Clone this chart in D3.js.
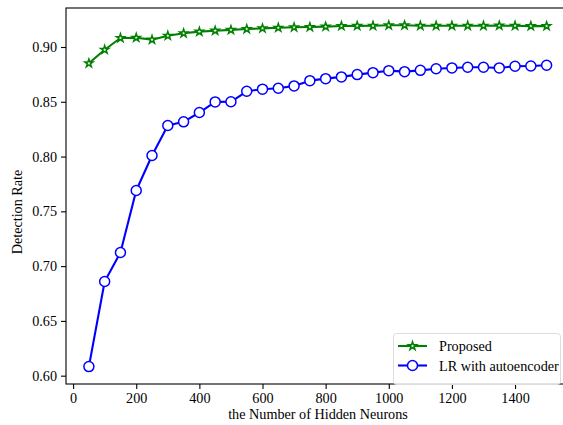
<!DOCTYPE html>
<html>
<head>
<meta charset="utf-8">
<script src="https://cdn.jsdelivr.net/npm/d3@7"></script>
<style>
  html, body { margin: 0; padding: 0; background: #fff; }
  svg text { font-family: 'Liberation Serif', 'Times New Roman', Tinos, 'DejaVu Serif', serif !important; }
</style>
</head>
<body>
<svg id="chart" width="563" height="425"></svg>
<script>
// ---- data ----
const neurons = [50,100,150,200,250,300,350,400,450,500,550,600,650,700,750,800,850,900,950,1000,1050,1100,1150,1200,1250,1300,1350,1400,1450,1500];
const proposed = [0.8851,0.8975,0.9082,0.9085,0.9067,0.9103,0.9125,0.9140,0.9149,0.9156,0.9164,0.9170,0.9176,0.9180,0.9182,0.9186,0.9192,0.9193,0.9194,0.9198,0.9198,0.9194,0.9194,0.9194,0.9194,0.9194,0.9196,0.9194,0.9191,0.9191];
const lrAuto = [0.6083,0.6860,0.7124,0.7690,0.8010,0.8283,0.8317,0.8402,0.8499,0.8500,0.8596,0.8615,0.8624,0.8645,0.8693,0.8711,0.8727,0.8748,0.8766,0.8784,0.8775,0.8787,0.8802,0.8809,0.8815,0.8815,0.8809,0.8824,0.8827,0.8833];
const seriesNames = ["Proposed", "LR with autoencoder"];
const xTicks = [0,200,400,600,800,1000,1200,1400];
const yTicks = [0.60,0.65,0.70,0.75,0.80,0.85,0.90];

(function () {
const FONT = "'Liberation Serif', 'Times New Roman', Tinos, 'DejaVu Serif', serif";
const FS = 14.2;
const svg = d3.select("#chart");
const mLeft = 66, mTop = 8, mRight = 569.5, mBottom = 384;

const x = d3.scaleLinear().domain([-22.5, 1572.5]).range([mLeft, mRight]);
const y = d3.scaleLinear().domain([0.5924, 0.9356]).range([mBottom, mTop]);

// axes
const xAxis = d3.axisBottom(x).tickValues(xTicks).tickFormat(d3.format("d")).tickSizeOuter(0).tickSize(5).tickPadding(4);
const yAxis = d3.axisLeft(y).tickValues(yTicks).tickFormat(d3.format(".2f")).tickSizeOuter(0).tickSize(5).tickPadding(4);

const gx = svg.append("g").attr("transform", `translate(0,${mBottom})`).call(xAxis);
const gy = svg.append("g").attr("transform", `translate(${mLeft},0)`).call(yAxis);
[gx, gy].forEach(g => {
  g.attr("font-family", FONT).attr("font-size", FS);
  g.select(".domain").remove();
  g.selectAll(".tick line").attr("stroke", "#000").attr("stroke-width", 1.1);
  g.selectAll(".tick text").attr("fill", "#000");
});

// frame spines
svg.append("rect").attr("x", mLeft).attr("y", mTop).attr("width", mRight - mLeft).attr("height", mBottom - mTop)
  .attr("fill", "none").attr("stroke", "#000").attr("stroke-width", 1.1);

// lines
const pts1 = neurons.map((n, i) => [n, proposed[i]]);
const pts2 = neurons.map((n, i) => [n, lrAuto[i]]);
const line = d3.line().x(d => x(d[0])).y(d => y(d[1]));

const star = d3.symbol().type(d3.symbolStar).size(20);

function drawSeries(pts, color, marker) {
  svg.append("path").datum(pts).attr("d", line).attr("fill", "none")
    .attr("stroke", color).attr("stroke-width", 2.1).attr("stroke-linejoin", "round");
  const g = svg.append("g");
  if (marker === "star") {
    g.selectAll("path").data(pts).join("path")
      .attr("d", star).attr("transform", d => `translate(${x(d[0])},${y(d[1])})`)
      .attr("fill", "#fff").attr("stroke", color).attr("stroke-width", 1.5);
  } else {
    g.selectAll("circle").data(pts).join("circle")
      .attr("cx", d => x(d[0])).attr("cy", d => y(d[1])).attr("r", 5)
      .attr("fill", "#fff").attr("stroke", color).attr("stroke-width", 1.5);
  }
}
drawSeries(pts1, "green", "star");
drawSeries(pts2, "blue", "circle");

// axis labels
svg.append("text").attr("x", 318).attr("y", 419).attr("text-anchor", "middle")
  .attr("font-family", FONT).attr("font-size", FS).text("the Number of Hidden Neurons");
svg.append("text").attr("transform", `translate(22,212) rotate(-90)`).attr("text-anchor", "middle")
  .attr("font-family", FONT).attr("font-size", FS).text("Detection Rate");

// legend
const lg = svg.append("g");
lg.append("rect").attr("x", 393.5).attr("y", 333.5).attr("width", 167).attr("height", 51).attr("rx", 3)
  .attr("fill", "#fff").attr("fill-opacity", 0.8).attr("stroke", "#ddd").attr("stroke-width", 1);
const legendColors = ["green", "blue"];
seriesNames.forEach((name, i) => {
  const cy = 346 + i * 19.5;
  lg.append("line").attr("x1", 398).attr("x2", 427).attr("y1", cy).attr("y2", cy)
    .attr("stroke", legendColors[i]).attr("stroke-width", 2.1);
  if (i === 0) {
    lg.append("path").attr("d", star).attr("transform", `translate(412.5,${cy})`)
      .attr("fill", "#fff").attr("stroke", legendColors[i]).attr("stroke-width", 1.5);
  } else {
    lg.append("circle").attr("cx", 412.5).attr("cy", cy).attr("r", 5)
      .attr("fill", "#fff").attr("stroke", legendColors[i]).attr("stroke-width", 1.5);
  }
  lg.append("text").attr("x", 439).attr("y", cy + 5)
    .attr("font-family", FONT).attr("font-size", FS).text(name);
});
})();
</script>
</body>
</html>
